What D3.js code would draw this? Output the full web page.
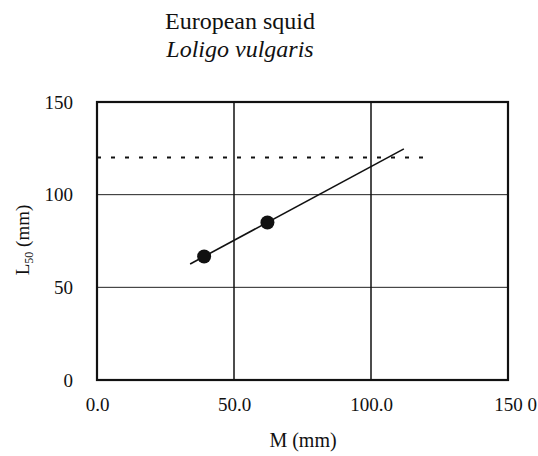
<!DOCTYPE html>
<html>
<head>
<meta charset="utf-8">
<script src="https://cdn.jsdelivr.net/npm/d3@7"></script>
<style>
  html, body { margin: 0; padding: 0; background: #fff; }
  svg { display: block; }
  svg text { font-family: "Liberation Serif", "DejaVu Serif", serif; fill: #111; }
</style>
</head>
<body>
<svg id="chart" width="538" height="456"></svg>
<script>
// Observed L50 against mantle length M (mm)
const pointM = [39.1, 62.2];
const pointL50 = [66.6, 85.0];

// Fitted regression line endpoints
const fitM = [34, 112];
const fitL50 = [62.6, 124.7];

// Reference level and its extent
const refLevel = 120;
const refExtent = [0, 120];

// Axis ticks
const xTicks = [0, 50, 100, 150];
const xTickLabels = ["0.0", "50.0", "100.0", "150 0"];
const yTicks = [0, 50, 100, 150];
const yTickLabels = ["0", "50", "100", "150"];

const svg = d3.select("#chart");
const margin = { left: 97, right: 30, top: 102, bottom: 76 };
const W = 538, H = 456;
const serif = '"Liberation Serif", "DejaVu Serif", serif';

const x = d3.scaleLinear().domain([0, 150]).range([margin.left, W - margin.right]);
const y = d3.scaleLinear().domain([0, 150]).range([H - margin.bottom, margin.top]);

// Titles
svg.append("text").attr("x", 240).attr("y", 29).attr("text-anchor", "middle")
  .attr("font-size", 24).text("European squid");
svg.append("text").attr("x", 240).attr("y", 57).attr("text-anchor", "middle")
  .attr("font-size", 24).attr("font-style", "italic").text("Loligo vulgaris");

// Horizontal gridlines
svg.append("g").selectAll("line").data([50, 100]).join("line")
  .attr("x1", x(0)).attr("x2", x(150))
  .attr("y1", d => y(d)).attr("y2", d => y(d))
  .attr("stroke", "#222").attr("stroke-width", 1);

// Vertical gridlines
svg.append("g").selectAll("line").data([50, 100]).join("line")
  .attr("y1", y(0)).attr("y2", y(150))
  .attr("x1", d => x(d)).attr("x2", d => x(d))
  .attr("stroke", "#111").attr("stroke-width", 1.5);

// Dashed reference level
svg.append("line")
  .attr("x1", x(refExtent[0])).attr("x2", x(refExtent[1]))
  .attr("y1", y(refLevel)).attr("y2", y(refLevel))
  .attr("stroke", "#111").attr("stroke-width", 2)
  .attr("stroke-dasharray", "4,10");

// Frame
svg.append("rect")
  .attr("x", x(0)).attr("y", y(150))
  .attr("width", x(150) - x(0)).attr("height", y(0) - y(150))
  .attr("fill", "none").attr("stroke", "#111").attr("stroke-width", 2.2);

// Regression line
svg.append("line")
  .attr("x1", x(fitM[0])).attr("y1", y(fitL50[0]))
  .attr("x2", x(fitM[1])).attr("y2", y(fitL50[1]))
  .attr("stroke", "#111").attr("stroke-width", 1.6);

// Data points
svg.append("g").selectAll("circle").data(pointM).join("circle")
  .attr("cx", d => x(d)).attr("cy", (d, i) => y(pointL50[i]))
  .attr("r", 7).attr("fill", "#111");

// Axes (tick labels only)
const xAxis = d3.axisBottom(x).tickValues(xTicks)
  .tickFormat((d, i) => xTickLabels[i]).tickSize(0).tickPadding(18);
svg.append("g").attr("transform", `translate(0,${y(0)})`).call(xAxis)
  .attr("font-family", serif)
  .call(g => g.select(".domain").remove())
  .selectAll("text").attr("font-size", 19).attr("fill", "#111")
  .attr("dx", (d, i) => i === 3 ? 7 : 0);

const yAxis = d3.axisLeft(y).tickValues(yTicks)
  .tickFormat((d, i) => yTickLabels[i]).tickSize(0).tickPadding(24);
svg.append("g").attr("transform", `translate(${x(0)},0)`).call(yAxis)
  .attr("font-family", serif)
  .call(g => g.select(".domain").remove())
  .selectAll("text").attr("font-size", 19).attr("fill", "#111");

// Axis titles
svg.append("text").attr("x", 303).attr("y", 447)
  .attr("text-anchor", "middle").attr("font-size", 20).text("M (mm)");

const yl = svg.append("text")
  .attr("transform", `translate(29,240) rotate(-90)`)
  .attr("text-anchor", "middle").attr("font-size", 19);
yl.append("tspan").text("L");
yl.append("tspan").attr("font-size", 12).attr("dy", 4).text("50");
yl.append("tspan").attr("dy", -4).text(" (mm)");
</script>
</body>
</html>
